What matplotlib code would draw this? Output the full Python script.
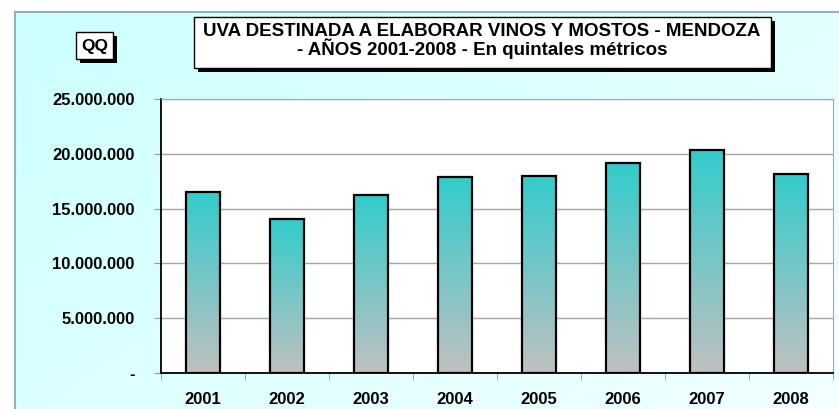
import numpy as np
import matplotlib
matplotlib.use("Agg")
import matplotlib.pyplot as plt
from matplotlib.patches import Rectangle
from matplotlib.colors import LinearSegmentedColormap
from matplotlib.ticker import FuncFormatter

plt.rcParams['font.family'] = ['Liberation Sans', 'DejaVu Sans']
plt.rcParams['font.weight'] = 'bold'

years = ['2001', '2002', '2003', '2004', '2005', '2006', '2007', '2008']
qq = [16560000, 14040000, 16280000, 17840000, 17990000, 19150000, 20370000, 18200000]
yticks = [0, 5000000, 10000000, 15000000, 20000000, 25000000]
title1 = 'UVA DESTINADA A ELABORAR VINOS Y MOSTOS - MENDOZA'
title2 = '- AÑOS 2001-2008 - En quintales métricos'

W, H = 839, 409
fig = plt.figure(figsize=(W / 100, H / 100), dpi=100)
fig.patch.set_facecolor('white')

# chart area background (light cyan gradient)
bg = fig.add_axes([15 / W, 0, 1 - 15 / W, 1 - 12 / H])
gx, gy = np.meshgrid(np.linspace(0, 1, 200), np.linspace(0, 1, 100))
grad = (gx * 0.6 + gy * 0.4)
bg_cmap = LinearSegmentedColormap.from_list('bgc', ['#CCFFFF', '#F2FFFF'])
bg.imshow(grad, cmap=bg_cmap, aspect='auto', extent=[0, 1, 0, 1], origin='upper')
bg.set_xlim(0, 1)
bg.set_ylim(0, 1)
bg.set_xticks([])
bg.set_yticks([])
for s in ['right', 'bottom']:
    bg.spines[s].set_visible(False)
for s in ['left', 'top']:
    bg.spines[s].set_color('#8FB3B3')
    bg.spines[s].set_linewidth(1.5)

ax = fig.add_axes([161 / W, (H - 373) / H, (833 - 161) / W, (373 - 99) / H])
ax.set_facecolor('white')
x = np.arange(len(years))
bars = ax.bar(x, qq, width=0.4, color='none', edgecolor='black', linewidth=1.6, zorder=3)

# vertical gradient inside each bar: cyan at top, gray at bottom
bar_cmap = LinearSegmentedColormap.from_list('barc', ['#33CCCC', '#C0C0C0'])
vgrad = np.linspace(0, 1, 256).reshape(-1, 1)
for b in bars:
    x0 = b.get_x()
    im = ax.imshow(vgrad, cmap=bar_cmap, aspect='auto', origin='upper',
                   extent=[x0, x0 + b.get_width(), 0, b.get_height()], zorder=2)
    im.set_clip_path(b)

ax.set_xlim(-0.5, len(years) - 0.5)
ax.set_ylim(0, 25000000)
ax.set_yticks(yticks)
ax.yaxis.set_major_formatter(FuncFormatter(
    lambda v, p: '-' if v == 0 else f'{int(v):,}'.replace(',', '.')))
ax.set_xticks(x)
ax.set_xticklabels(years)
ax.set_xticks(np.arange(-0.5, len(years)), minor=True)
ax.tick_params(axis='x', which='major', length=0, pad=14, labelsize=12)
ax.tick_params(axis='x', which='minor', length=5, color='#999999', direction='out')
ax.tick_params(axis='y', length=5, color='#999999', direction='out', pad=14, labelsize=12)
ax.grid(axis='y', color='#A6A6A6', linewidth=1, zorder=0)
ax.set_axisbelow(True)
ax.spines['left'].set_color('black')
ax.spines['bottom'].set_color('black')
ax.spines['left'].set_linewidth(1.3)
ax.spines['bottom'].set_linewidth(1.3)
ax.spines['top'].set_color('#A6A6A6')
ax.spines['right'].set_color('#A6A6A6')


def shadow_box(x0, y0, x1, y1, off=4):
    fig.patches.append(Rectangle(((x0 + off) / W, 1 - (y1 + off) / H), (x1 - x0) / W, (y1 - y0) / H,
                                 transform=fig.transFigure, facecolor='black', edgecolor='none', zorder=5))
    fig.patches.append(Rectangle((x0 / W, 1 - y1 / H), (x1 - x0) / W, (y1 - y0) / H,
                                 transform=fig.transFigure, facecolor='white', edgecolor='black',
                                 linewidth=1, zorder=6))


shadow_box(194, 17, 771, 68)
fig.text(482 / W, 1 - 31.5 / H, title1, ha='center', va='center', fontsize=13.5,
         fontweight='bold', zorder=7)
fig.text(482 / W, 1 - 48.5 / H, title2, ha='center', va='center', fontsize=13.5,
         fontweight='bold', zorder=7)

shadow_box(76, 32, 113, 59, off=4)
fig.text(94.5 / W, 1 - 46 / H, 'QQ', ha='center', va='center', fontsize=12.5,
         fontweight='bold', zorder=7)

fig.savefig('out.png', dpi=100)
